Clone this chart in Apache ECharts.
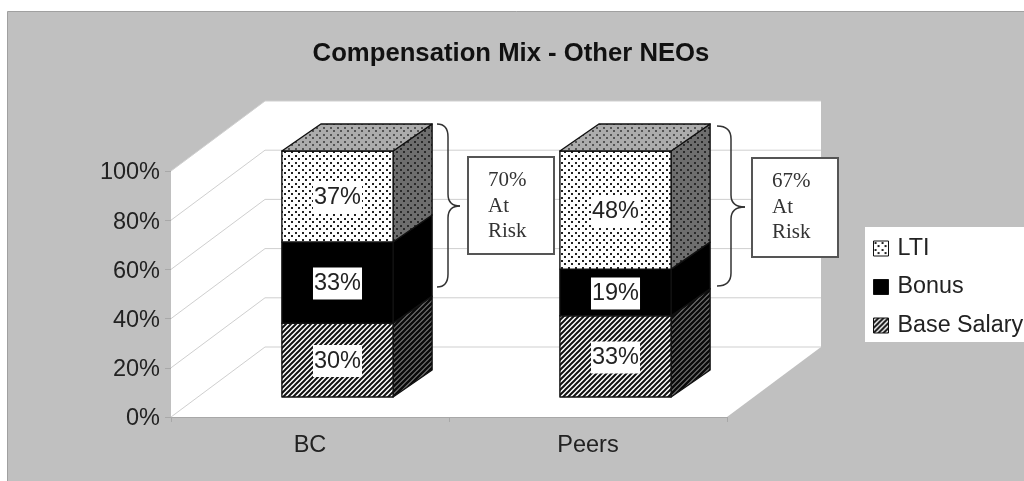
<!DOCTYPE html>
<html>
<head>
<meta charset="utf-8">
<title>Compensation Mix - Other NEOs</title>
<script src="https://cdn.jsdelivr.net/npm/echarts@6/dist/echarts.min.js"></script>
<style>
html, body { margin: 0; padding: 0; background: #fff; overflow: hidden; }
/* the source picture is a soft scan */
#main { width: 1024px; height: 481px; filter: blur(0.5px); }
</style>
</head>
<body>
<div id="main"></div>
<script>
var categories = ['BC', 'Peers'];
var baseSalary = [30, 33];
var bonus = [33, 19];
var lti = [37, 48];
var yTicks = [0, 20, 40, 60, 80, 100];
var riskLabels = ['70%\nAt\nRisk', '67%\nAt\nRisk'];

var FONT = '"Liberation Sans", Arial, sans-serif';
var TEXT = '#222';

// depth of the 3d box, in pixels
var wallDx = 94, wallDy = -70;
var barOffX = 27.5, barOffY = -20;
var barDx = 39, barDy = -27;

function dots(bg, dot, size) {
    var c = document.createElement('canvas');
    c.width = 7; c.height = 7;
    var g = c.getContext('2d');
    g.fillStyle = bg;
    g.fillRect(0, 0, 7, 7);
    g.fillStyle = dot;
    g.fillRect(1, 1, size, size);
    g.fillRect(4, 4, size, size);
    return { image: c, repeat: 'repeat' };
}

function hatch(bg, line, w) {
    var s = 5;
    var c = document.createElement('canvas');
    c.width = s; c.height = s;
    var g = c.getContext('2d');
    g.fillStyle = bg;
    g.fillRect(0, 0, s, s);
    g.strokeStyle = line;
    g.lineWidth = w;
    g.beginPath();
    g.moveTo(-1, 1); g.lineTo(1, -1);
    g.moveTo(0, s); g.lineTo(s, 0);
    g.moveTo(s - 1, s + 1); g.lineTo(s + 1, s - 1);
    g.stroke();
    return { image: c, repeat: 'repeat' };
}

var ltiFill = {
    front: dots('#ffffff', '#222222', 2),
    side: dots('#6e6e6e', '#2a2a2a', 2),
    top: dots('#acacac', '#555555', 2)
};
var bonusFill = { front: '#000000', side: '#000000', top: '#000000' };
var baseFill = {
    front: hatch('#ffffff', '#111111', 2),
    side: hatch('#777777', '#0a0a0a', 2.4),
    top: '#000000'
};

function poly(points, fill) {
    return {
        type: 'polygon',
        shape: { points: points },
        style: { fill: fill, stroke: '#111', lineWidth: 1.4, lineJoin: 'round' }
    };
}

// one stacked block: front face, side face, lid on the top one
function blockRenderer(fills, isTop) {
    return function (params, api) {
        var cat = api.value(0), from = api.value(1), to = api.value(2);
        var w = api.size([1, 0])[0] * 0.4;
        var p0 = api.coord([cat, from]);
        var p1 = api.coord([cat, to]);
        var x0 = p0[0] + barOffX - w / 2, x1 = x0 + w;
        var yb = p0[1] + barOffY, yt = p1[1] + barOffY;
        var kids = [
            poly([[x1, yb], [x1 + barDx, yb + barDy], [x1 + barDx, yt + barDy], [x1, yt]], fills.side),
            poly([[x0, yb], [x1, yb], [x1, yt], [x0, yt]], fills.front)
        ];
        if (isTop) {
            kids.push(poly([[x0, yt], [x0 + barDx, yt + barDy], [x1 + barDx, yt + barDy], [x1, yt]], fills.top));
        }
        kids.push({
            type: 'text',
            z2: 5,
            style: {
                text: (to - from) + '%',
                x: (x0 + x1) / 2,
                y: (yb + yt) / 2 + 1,
                align: 'center',
                verticalAlign: 'middle',
                font: '23.5px ' + FONT,
                fill: TEXT,
                backgroundColor: '#fff',
                padding: [4, 1, 4, 1]
            }
        });
        return { type: 'group', children: kids };
    };
}

function wallRenderer(params, api) {
    var r = params.coordSys;
    var fy = api.coord([0, api.value(1)])[1];
    var front = [r.x, fy];
    var back = [r.x + wallDx, fy + wallDy];
    var kids = [];
    if (params.dataIndex === 0) {
        var fl = r.x, fr = r.x + r.width, ft = r.y, fb = r.y + r.height;
        kids.push({
            type: 'polygon',
            shape: {
                points: [[fl, fb], [fl, ft], [fl + wallDx, ft + wallDy], [fr + wallDx, ft + wallDy],
                    [fr + wallDx, fb + wallDy], [fr, fb]]
            },
            style: { fill: '#fff' }
        });
    }
    kids.push({
        type: 'polyline',
        z2: 1,
        shape: { points: [front, back, [r.x + r.width + wallDx, back[1]]] },
        style: { stroke: '#cfcfcf', lineWidth: 1, fill: 'none' }
    });
    return { type: 'group', children: kids };
}

function blockData(vals, under) {
    return vals.map(function (v, i) { return [i, under[i], under[i] + v]; });
}

var afterBase = baseSalary.map(function (v, i) { return v + bonus[i]; });

// curly brace opening left, then the white note box
function braceBox(xs, xv, xt, ys, ym, ye, box, text) {
    var st = { fill: 'none', stroke: '#333', lineWidth: 1.5 };
    function curve(x1, y1, x2, y2, cx, cy) {
        return { type: 'bezierCurve', z: 20, shape: { x1: x1, y1: y1, x2: x2, y2: y2, cpx1: cx, cpy1: cy }, style: st };
    }
    function line(x1, y1, x2, y2) {
        return { type: 'line', z: 20, shape: { x1: x1, y1: y1, x2: x2, y2: y2 }, style: st };
    }
    return [
        curve(xs, ys, xv, ys + 13, xv, ys),
        line(xv, ys + 13, xv, ym - 12),
        curve(xv, ym - 12, xt, ym, xv, ym),
        curve(xt, ym, xv, ym + 12, xv, ym),
        line(xv, ym + 12, xv, ye - 13),
        curve(xv, ye - 13, xs, ye, xv, ye),
        { type: 'rect', z: 20, shape: box, style: { fill: '#fff', stroke: '#555', lineWidth: 2 } },
        {
            type: 'text', z: 21, x: box.x + 20, y: box.y + 11,
            style: { text: text, font: '21px "Liberation Serif", serif', fill: '#333', lineHeight: 25.5 }
        }
    ];
}

var myChart = echarts.init(document.getElementById('main'), null, { renderer: 'canvas' });

var option = {
    animation: false,
    backgroundColor: '#fff',
    title: {
        text: 'Compensation Mix - Other NEOs',
        left: 506,
        textAlign: 'center',
        top: 36,
        textStyle: { fontFamily: FONT, fontSize: 25.7, fontWeight: 'bold', color: '#111' }
    },
    grid: { left: 171, top: 171, width: 556, height: 246 },
    xAxis: {
        type: 'category',
        data: categories,
        axisLine: { lineStyle: { color: '#a8a8a8', width: 1 } },
        axisTick: { show: true, length: 5, alignWithLabel: false, lineStyle: { color: '#a8a8a8' } },
        axisLabel: { fontFamily: FONT, fontSize: 23.5, color: TEXT, margin: 17 }
    },
    yAxis: {
        type: 'value',
        min: 0,
        max: 100,
        interval: 20,
        axisLine: { show: true, lineStyle: { color: '#a8a8a8', width: 1 } },
        axisTick: { show: true, length: 6, lineStyle: { color: '#a8a8a8' } },
        splitLine: { show: false },
        axisLabel: {
            formatter: '{v|{value}%}', margin: 11,
            rich: { v: { fontFamily: FONT, fontSize: 23.5, color: TEXT, padding: [4, 0, 0, 0] } }
        }
    },
    legend: {
        data: ['LTI', 'Bonus', 'Base Salary'],
        orient: 'vertical',
        left: 865,
        top: 227,
        padding: [10, 2, 5, 8],
        backgroundColor: '#fff',
        itemWidth: 15,
        itemHeight: 15,
        itemGap: 15.5,
        icon: 'rect',
        textStyle: { fontFamily: FONT, fontSize: 23.3, color: TEXT, padding: [0, 0, 1, 4] },
        itemStyle: { borderColor: '#111', borderWidth: 1 },
        selectedMode: false
    },
    graphic: [
        {
            type: 'rect', z: -10,
            shape: { x: 7.5, y: 11.5, width: 1030, height: 480 },
            style: { fill: '#c0c0c0', stroke: '#a0a0a0', lineWidth: 1 }
        }
    ].concat(
        braceBox(437, 448, 460, 124, 206, 287, { x: 468, y: 157, width: 86, height: 97 }, riskLabels[0]),
        braceBox(717, 731, 745, 126, 207, 286, { x: 752, y: 158, width: 86, height: 99 }, riskLabels[1])
    ),
    series: [
        {
            type: 'custom',
            name: 'walls',
            coordinateSystem: 'cartesian2d',
            renderItem: wallRenderer,
            encode: { x: 0, y: 1 },
            data: yTicks.map(function (t) { return [0, t]; }),
            silent: true,
            z: 1
        },
        {
            type: 'custom',
            name: 'Base Salary',
            renderItem: blockRenderer(baseFill, false),
            encode: { x: 0, y: [1, 2] },
            itemStyle: { color: hatch('#ffffff', '#111111', 2) },
            data: blockData(baseSalary, [0, 0]),
            z: 3
        },
        {
            type: 'custom',
            name: 'Bonus',
            renderItem: blockRenderer(bonusFill, false),
            encode: { x: 0, y: [1, 2] },
            itemStyle: { color: '#000' },
            data: blockData(bonus, baseSalary),
            z: 4
        },
        {
            type: 'custom',
            name: 'LTI',
            renderItem: blockRenderer(ltiFill, true),
            encode: { x: 0, y: [1, 2] },
            itemStyle: { color: ltiFill.front },
            data: blockData(lti, afterBase),
            z: 5
        }
    ]
};

myChart.setOption(option);
</script>
</body>
</html>
